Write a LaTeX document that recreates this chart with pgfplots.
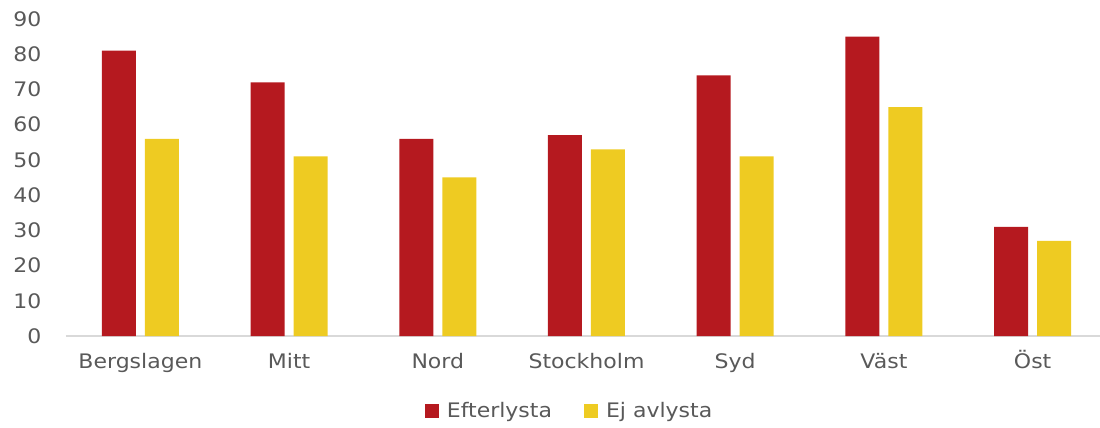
\documentclass[border=0pt]{standalone}
\usepackage{pgfplots}
\pgfplotsset{compat=1.18}
\usepackage{fontspec}
\setmainfont[FakeStretch=1.1]{DejaVu Sans}
\definecolor{cred}{HTML}{B5191F}
\definecolor{cyel}{HTML}{EECB22}
\definecolor{ctext}{HTML}{595959}
\definecolor{cline}{HTML}{D9D9D9}
\begin{document}
\begin{tikzpicture}
\begin{axis}[
  scale only axis,
  width=1034pt, height=317pt,
  ybar=9pt, bar width=34pt,
  xmin=-0.5, xmax=6.453,
  ymin=0, ymax=90,
  ytick={0,10,...,90},
  xtick={0,...,6},
  xticklabels={Bergslagen,Mitt,Nord,Stockholm,Syd,Väst,Öst},
  axis lines*=left,
  x axis line style={-, draw=cline, line width=1.5pt},
  y axis line style={draw=none},
  major tick length=0pt,
  tick label style={font=\fontsize{20}{24}\selectfont, text=ctext},
  /pgf/number format/assume math mode=true,
  yticklabel style={xshift=-21pt},
  xticklabel style={text height=15pt, text depth=0pt, yshift=-14pt},
  legend style={draw=none, at={(0.487,-0.2366)}, anchor=center,
    font=\fontsize{20}{24}\selectfont, text=ctext,
    /tikz/every even column/.append style={column sep=30pt}},
  legend columns=2,
  legend image code/.code={\fill[#1] (0pt,-7pt) rectangle (14pt,7pt);},
  legend cell align=left,
  clip=false,
]
\addplot[fill=cred, draw=none] coordinates {
  (0,81) (1,72) (2,56) (3,57) (4,74) (5,85) (6,31)
};
\addplot[fill=cyel, draw=none] coordinates {
  (0,56) (1,51) (2,45) (3,53) (4,51) (5,65) (6,27)
};
\legend{\hspace{6pt}Efterlysta, \hspace{6pt}Ej avlysta}
\end{axis}
\pgfresetboundingbox
\path (-66pt,-92pt) rectangle (1034pt,336pt);
\end{tikzpicture}
\end{document}
